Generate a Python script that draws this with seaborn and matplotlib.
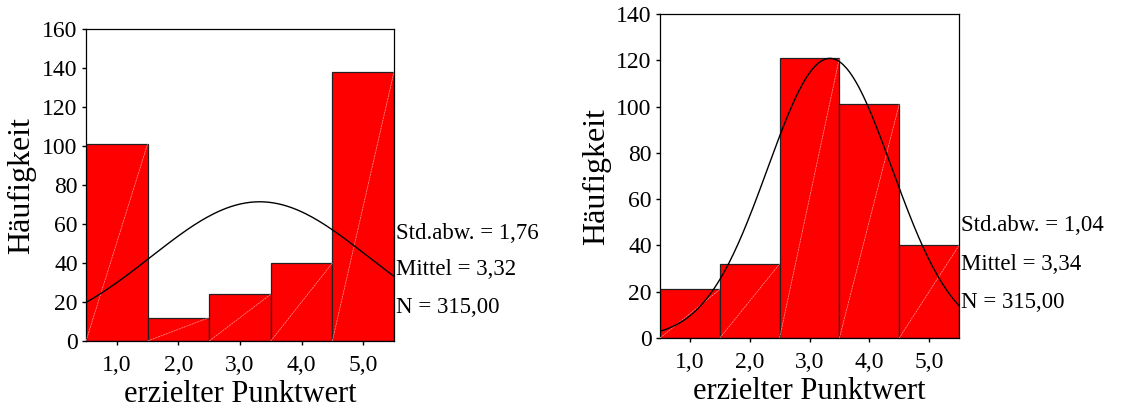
import numpy as np
import pandas as pd
import matplotlib
matplotlib.use("Agg")
import matplotlib.pyplot as plt
import seaborn as sns

# Data
scores = [1, 2, 3, 4, 5]
tick_labels = ["1,0", "2,0", "3,0", "4,0", "5,0"]
counts_left = [101, 12, 24, 40, 138]
counts_right = [21, 32, 121, 101, 40]
stats_left = {"std": 1.76, "mean": 3.32, "n": 315}
stats_right = {"std": 1.04, "mean": 3.34, "n": 315}
std_labels = ["1,76", "1,04"]
mean_labels = ["3,32", "3,34"]
n_label = "315,00"

sns.set_theme(style="white")
plt.rcParams["font.family"] = ["Liberation Serif", "DejaVu Serif"]
plt.rcParams["text.color"] = "black"
plt.rcParams["axes.labelcolor"] = "black"
plt.rcParams["xtick.color"] = "black"
plt.rcParams["ytick.color"] = "black"

fig = plt.figure(figsize=(11.36, 4.12), dpi=100)
ax1 = fig.add_axes([0.0757, 0.1723, 0.2711, 0.7573])
ax2 = fig.add_axes([0.5810, 0.1796, 0.2632, 0.7864])


def draw_panel(ax, counts, stats, ymax, std_txt, mean_txt):
    df = pd.DataFrame({"score": scores, "count": counts})
    sns.histplot(data=df, x="score", weights="count", discrete=True,
                 color="#ff0000", edgecolor="#222222", linewidth=0.9,
                 alpha=1, ax=ax)
    # faint diagonal line inside each bar (as in the original export)
    for p in ax.patches:
        x0, y0 = p.get_x(), p.get_y()
        ax.plot([x0, x0 + p.get_width()], [y0, y0 + p.get_height()],
                color="#ff9a9a", lw=0.5, ls=(0, (3, 1)), zorder=3)
    # fitted normal curve
    xs = np.linspace(0.5, 5.5, 200)
    ys = stats["n"] * np.exp(-0.5 * ((xs - stats["mean"]) / stats["std"]) ** 2) / (stats["std"] * np.sqrt(2 * np.pi))
    sns.lineplot(x=xs, y=ys, color="black", lw=1.0, ax=ax, zorder=4)

    ax.set_xlim(0.5, 5.5)
    ax.set_ylim(0, ymax)
    ax.set_xticks(scores)
    ax.set_xticklabels(tick_labels)
    ax.set_yticks(np.arange(0, ymax + 1, 20))
    ax.tick_params(axis="both", labelsize=17, direction="out", length=3,
                   width=1, color="black", labelcolor="black",
                   left=True, bottom=True, pad=3)
    ax.tick_params(axis="x", pad=7)
    for s in ax.spines.values():
        s.set_color("black")
        s.set_linewidth(0.9)
    ax.set_xlabel("erzielter Punktwert", fontsize=22, labelpad=3, color="black")
    ax.set_ylabel("Häufigkeit", fontsize=23, labelpad=4, color="black")

    kw = dict(transform=ax.transAxes, fontsize=16.5, va="center", ha="left",
              color="black", clip_on=False)
    ax.text(1.006, 0.346, "Std.abw. = " + std_txt, **kw)
    ax.text(1.006, 0.228, "Mittel = " + mean_txt, **kw)
    ax.text(1.006, 0.109, "N = " + n_label, **kw)


draw_panel(ax1, counts_left, stats_left, 160, std_labels[0], mean_labels[0])
draw_panel(ax2, counts_right, stats_right, 140, std_labels[1], mean_labels[1])

fig.savefig("out.png", dpi=100)
